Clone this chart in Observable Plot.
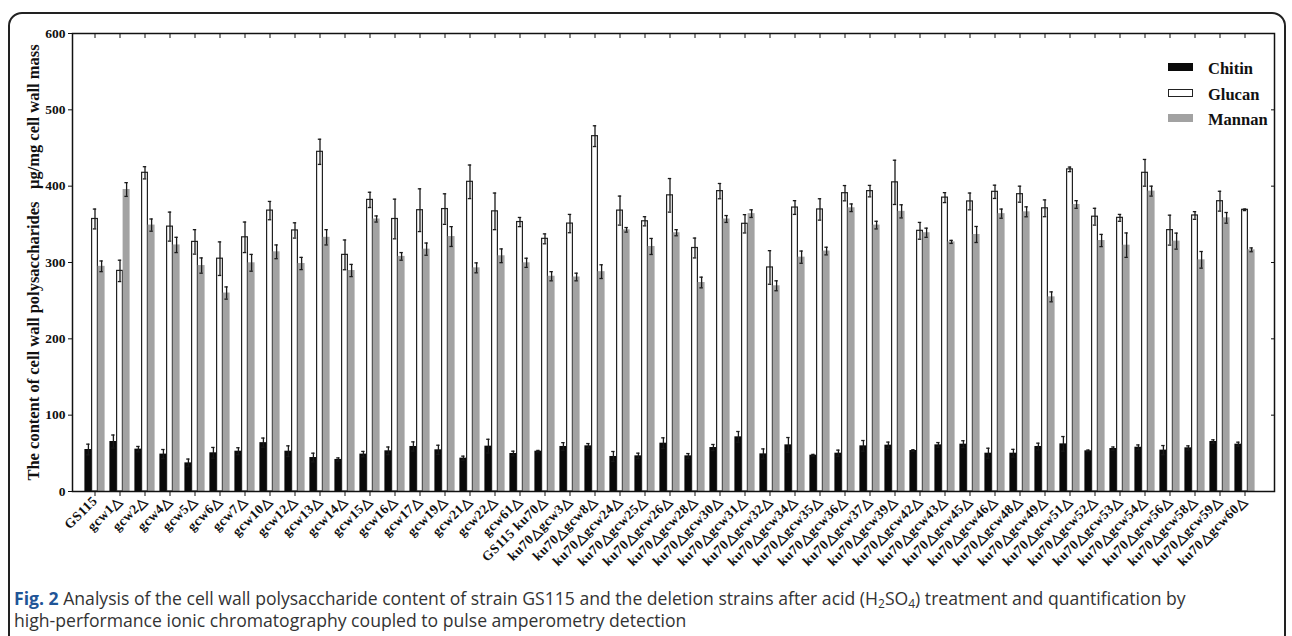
<!DOCTYPE html>
<html>
<head>
<meta charset="utf-8">
<script src="https://cdn.jsdelivr.net/npm/d3@7"></script>
<script src="https://cdn.jsdelivr.net/npm/@observablehq/plot@0.6"></script>
<style>
  html, body { margin: 0; padding: 0; background: #fff; }
  #wrap { position: relative; width: 1292px; height: 636px; overflow: hidden; }
  #border { position: absolute; left: 8px; top: 12px; width: 1278px; height: 700px;
            border: 2px solid #222; border-radius: 14px; box-sizing: border-box; }
  #chart { position: absolute; left: 0; top: 0; }
  #chart g[aria-label="y-axis label"] text { font-size: 16.5px; }
  #chart g[aria-label="y-axis tick label"] { font-size: 13.5px; }
  #chart g[aria-label="y-axis tick label"] text { font-size: 13.5px; }
  #chart g[aria-label="x-axis tick label"] text { letter-spacing: 0.5px; }
  #legend { position: absolute; left: 1168px; top: 56px; font-family: "Liberation Serif", serif;
            font-weight: bold; font-size: 16.5px; color: #111; }
  .li { position: relative; height: 25.5px; }
  .sw { position: absolute; left: 0; top: 7px; width: 25px; height: 8px; box-sizing: border-box; }
  .lt { position: absolute; left: 40px; top: 2px; line-height: 22px; }
  #caption { position: absolute; left: 14px; top: 587px; width: 1270px; font-family: "Open Sans", sans-serif;
             font-size: 17.6px; line-height: 22px; color: #333; white-space: nowrap; }
  #caption b { color: #1f5597; }
  #caption sub { font-size: 12px; line-height: 0; vertical-align: -3px; }
</style>
</head>
<body>
<div id="wrap">
  <div id="border"></div>
  <div id="chart"></div>
  <div id="legend"></div>
  <div id="caption"><b>Fig. 2</b> Analysis of the cell wall polysaccharide content of strain GS115 and the deletion strains after acid (H<sub>2</sub>SO<sub>4</sub>) treatment and quantification by<br>high-performance ionic chromatography coupled to pulse amperometry detection</div>
</div>
<script>
const categories = ["GS115","gcw1△","gcw2△","gcw4△","gcw5△","gcw6△","gcw7△","gcw10△","gcw12△","gcw13△","gcw14△","gcw15△","gcw16△","gcw17△","gcw19△","gcw21△","gcw22△","gcw61△","GS115 ku70△","ku70△gcw3△","ku70△gcw8△","ku70△gcw24△","ku70△gcw25△","ku70△gcw26△","ku70△gcw28△","ku70△gcw30△","ku70△gcw31△","ku70△gcw32△","ku70△gcw34△","ku70△gcw35△","ku70△gcw36△","ku70△gcw37△","ku70△gcw39△","ku70△gcw42△","ku70△gcw43△","ku70△gcw45△","ku70△gcw46△","ku70△gcw48△","ku70△gcw49△","ku70△gcw51△","ku70△gcw52△","ku70△gcw53△","ku70△gcw54△","ku70△gcw56△","ku70△gcw58△","ku70△gcw59△","ku70△gcw60△"];

const chitin = [55,65.5,55.5,49,37.5,50.7,52.8,64,52.8,44.5,42,49,53.3,59,54.6,43.7,59.4,49.8,52.8,59,59.8,45.9,46.7,63.3,46.7,57.6,71.6,49.3,61.1,47.6,50.2,59.8,60.7,53.7,61.1,62,50.2,50.2,59,62.4,53.3,56.3,58,54.2,57.2,65.5,62];
const chitinErr = [7,8.5,3.5,6,5,7,4.5,6,7,5.7,2,3.5,5,6,6,2.6,9,3,1,5,3,6.5,3.5,7,3,4,7,6.5,9.6,1,4,7,4,1,3,4.5,6.5,5,4.3,9.6,1,2,3,6,2.6,2.2,2.6];

const glucan = [357,289,417.5,347,327,305,333,368,342,445,310,382,357,368.5,370,405.7,367,353,331,351,465.5,368,354,388,319,393.5,350.7,293.5,372,369.5,390.8,393.5,405,341.5,385,380,392.6,389.5,371,422,360,358.5,417.5,342.4,361.6,380.3,369];
const glucanErr = [13,14,8,19,16,22,20,12,10,16.5,19.5,10,26,28,20,22,24,6,6.5,12,13.6,19,6,22,13,10,12,22,9,14,10,7.5,29,11,6.5,11,8.7,10.5,11,3,11,4.5,17.5,19.6,5,13,1];

const mannan = [295,395.6,349,323,296,260,299.6,314,298.7,333,289.5,357,308,317.5,334,293,308.8,299.6,282,281,288,342.8,321,339,273.8,357,364,269.5,307,315,371.7,349,367,339,327,336.7,364,366.4,255,376,328.8,322.7,393.5,328,303.5,358.5,316.6];
const mannanErr = [7,9,8,10,10,8,11,9,8,10,8,4,5,8,13,6.5,9,6,6,5,9,3,10.5,4,7,4.5,5,6.5,8,5,5,5,8.6,6,2,10.5,6,6.5,6.5,5,8,16,6.5,10.5,10.9,7,2.5];

const yTicks = [0,100,200,300,400,500,600];
const seriesNames = ["Chitin","Glucan","Mannan"];
const seriesFill = ["#0a0a0a","#ffffff","#a2a2a2"];
const yLabel = "The content of cell wall polysaccharides\u00a0\u00a0\u00a0µg/mg cell wall mass";

const rows = categories.map((c, i) => ({
  cat: c,
  chitin: chitin[i], chitinErr: chitinErr[i],
  glucan: glucan[i], glucanErr: glucanErr[i],
  mannan: mannan[i], mannanErr: mannanErr[i]
}));

const off = 6.6;
const errStroke = "#1a1a1a";
function errMarks(key, dx) {
  const e = key + "Err";
  return [
    Plot.ruleX(rows, {x: "cat", y1: d => d[key] - d[e], y2: d => d[key] + d[e], dx, stroke: errStroke, strokeWidth: 1.3}),
    Plot.tickY(rows, {x: "cat", y: d => d[key] + d[e], dx, insetLeft: 1.8, insetRight: 1.8, stroke: errStroke, strokeWidth: 1.3}),
    Plot.tickY(rows, {x: "cat", y: d => d[key] - d[e], dx, insetLeft: 1.8, insetRight: 1.8, stroke: errStroke, strokeWidth: 1.3})
  ];
}

const chart = Plot.plot({
  width: 1292,
  height: 585,
  marginLeft: 72,
  marginRight: 18,
  marginTop: 33,
  marginBottom: 94,
  style: {fontFamily: "'Liberation Serif', serif", fontWeight: "bold", fontSize: "13px", color: "#111", background: "transparent"},
  x: {domain: categories, paddingInner: 0.74, paddingOuter: 0.641, align: 0.423},
  y: {domain: [0, 600]},
  marks: [
    Plot.barY(rows, {x: "cat", y: "chitin", dx: -off, fill: seriesFill[0]}),
    Plot.barY(rows, {x: "cat", y: "glucan", fill: seriesFill[1], stroke: "#222", strokeWidth: 1.2, insetLeft: 0.6, insetRight: 0.6}),
    Plot.barY(rows, {x: "cat", y: "mannan", dx: off, fill: seriesFill[2]}),
    ...errMarks("chitin", -off),
    ...errMarks("glucan", 0),
    ...errMarks("mannan", off),
    Plot.axisY({ticks: yTicks, tickSize: 4, tickPadding: 3, fontSize: 13.5, tickFormat: d => String(d), label: yLabel, labelAnchor: "center", labelArrow: "none", labelOffset: 45}),
    Plot.axisY({anchor: "right", ticks: yTicks, tickSize: -4, tickFormat: () => "", label: null}),
    Plot.axisX({tickRotate: -45, tickSize: 5, tickPadding: 2, fontSize: 13.5, label: null}),
    Plot.axisX({anchor: "top", tickSize: -4, tickFormat: () => "", label: null}),
    Plot.frame({stroke: "#111", strokeWidth: 1.5})
  ]
});
document.getElementById("chart").appendChild(chart);

const legend = document.getElementById("legend");
seriesNames.forEach((name, i) => {
  const li = document.createElement("div");
  li.className = "li";
  const sw = document.createElement("div");
  sw.className = "sw";
  sw.style.background = seriesFill[i];
  if (i === 1) sw.style.border = "1.3px solid #222";
  const t = document.createElement("div");
  t.className = "lt";
  t.textContent = name;
  li.appendChild(sw); li.appendChild(t);
  legend.appendChild(li);
});
</script>
</body>
</html>
